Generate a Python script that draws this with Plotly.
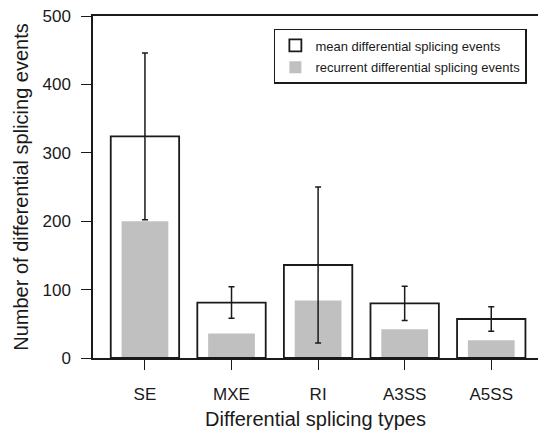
import plotly.graph_objects as go

categories = ["SE", "MXE", "RI", "A3SS", "A5SS"]
mean_events = [324, 81, 136, 80, 57]
mean_err = [122, 23, 114, 25, 18]
recurrent_events = [200, 36, 84, 42, 26]
y_ticks = [0, 100, 200, 300, 400, 500]

FONT = "Liberation Sans, Arial, sans-serif"
INK = "#1a1a1a"

fig = go.Figure()
fig.add_trace(go.Bar(
    x=categories, y=recurrent_events, width=0.54,
    name="recurrent differential splicing events",
    marker=dict(color="#c0c0c0", line=dict(width=0)),
    legendrank=2, legendgroup="b",
))
fig.add_trace(go.Bar(
    x=categories, y=mean_events, width=0.79,
    name="mean differential splicing events",
    marker=dict(color="rgba(255,255,255,0)", line=dict(color=INK, width=1.8)),
    error_y=dict(type="data", array=mean_err, visible=True, color=INK,
                 thickness=1.5, width=3),
    legendrank=1, legendgroup="a",
))

fig.update_layout(
    width=538, height=430,
    margin=dict(l=93, r=0, t=16, b=72),
    paper_bgcolor="white", plot_bgcolor="white",
    barmode="overlay",
    font=dict(family=FONT, color=INK, size=17),
    showlegend=True,
    legend=dict(
        x=0.975, xanchor="right", y=0.962, yanchor="top",
        bgcolor="white", bordercolor=INK, borderwidth=1.5,
        font=dict(size=13, family=FONT, color=INK),
        itemwidth=30, tracegroupgap=2,
    ),
    xaxis=dict(
        range=[-0.6, 4.54], showline=True, linecolor=INK, linewidth=1.5,
        mirror=True, ticks="outside", ticklen=10, tickwidth=1.2, tickcolor=INK,
        showgrid=False, zeroline=False,
        tickfont=dict(size=17), ticklabelstandoff=10,
        title=dict(text="Differential splicing types", font=dict(size=20), standoff=11),
    ),
    yaxis=dict(
        range=[0, 500], tickvals=y_ticks, showline=True, linecolor=INK, linewidth=1.5,
        ticks="outside", ticklen=10, tickwidth=1.2, tickcolor=INK,
        showgrid=False, zeroline=False,
        tickfont=dict(size=17), ticklabelstandoff=7,
        title=dict(text="Number of differential splicing events", font=dict(size=20), standoff=8),
    ),
)

fig.write_html("out.html")
